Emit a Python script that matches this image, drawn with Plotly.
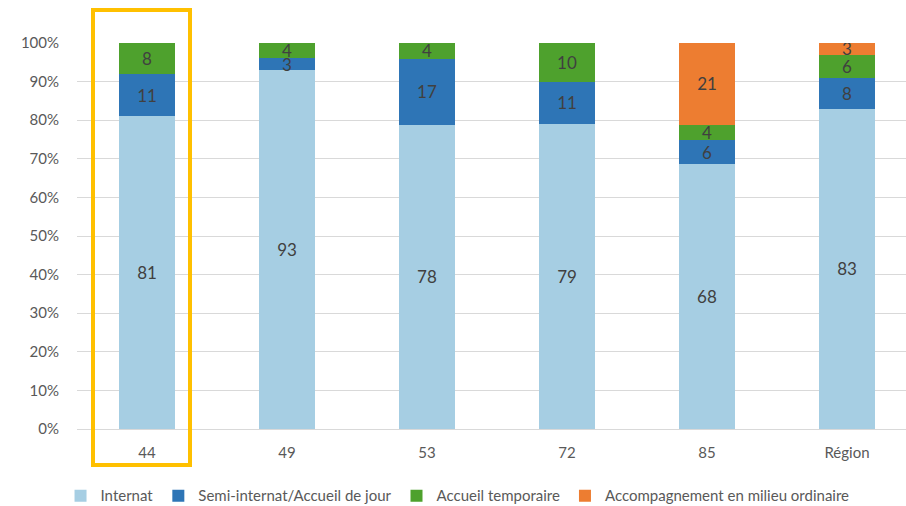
import plotly.graph_objects as go

categories = ["44", "49", "53", "72", "85", "Région"]
internat = [81, 93, 78, 79, 68, 83]
semi_internat = [11, 3, 17, 11, 6, 8]
accueil_temporaire = [8, 4, 4, 10, 4, 6]
accompagnement = [0, 0, 0, 0, 21, 3]
y_ticks = [0, 10, 20, 30, 40, 50, 60, 70, 80, 90, 100]
y_tick_labels = [f"{v}%" for v in y_ticks]

series = [
    ("Internat", internat, "#A6CEE3"),
    ("Semi-internat/Accueil de jour", semi_internat, "#2E75B6"),
    ("Accueil temporaire", accueil_temporaire, "#4EA12D"),
    ("Accompagnement en milieu ordinaire", accompagnement, "#ED7D31"),
]

FONT = "Lato, Roboto, sans-serif"

fig = go.Figure()
for name, vals, color in series:
    fig.add_trace(go.Bar(
        name=name, x=categories, y=vals,
        marker=dict(color=color, line=dict(width=0)),
        width=0.4,
        text=[str(v) if v else "" for v in vals],
        textposition="inside", insidetextanchor="middle",
        textangle=0, constraintext="none",
        textfont=dict(color="#404040", size=17, family=FONT),
    ))

W, H = 906, 506
ml, mr, mt, mb = 77, 0, 43, 77
pw = W - ml - mr
ph = H - mt - mb

def px2paper_x(px):
    return (px - ml) / pw

def px2paper_y(py):
    return (H - mb - py) / ph

fig.add_shape(type="rect", xref="paper", yref="paper",
              x0=px2paper_x(93), x1=px2paper_x(190),
              y0=px2paper_y(465), y1=px2paper_y(10),
              line=dict(color="#FFC000", width=4), layer="above")

fig.update_layout(
    width=W, height=H,
    margin=dict(l=ml, r=mr, t=mt, b=mb),
    barmode="stack", barnorm="percent",
    plot_bgcolor="white", paper_bgcolor="white",
    font=dict(family=FONT, color="#595959", size=15),
    showlegend=True,
    legend=dict(orientation="h", xref="container", yref="container",
                x=0.505, xanchor="center", y=0.02, yanchor="middle",
                font=dict(size=15, color="#595959", family=FONT),
                traceorder="normal"),
    xaxis=dict(range=[-0.5, -0.5 + pw / 140], showgrid=False, showline=False,
               zeroline=False, ticks="outside", ticklen=10, tickcolor="rgba(0,0,0,0)",
               tickfont=dict(size=15, color="#595959", family=FONT)),
    yaxis=dict(range=[0, 100], tickvals=y_ticks, ticktext=y_tick_labels,
               showgrid=True, gridcolor="#D9D9D9", gridwidth=1,
               zeroline=True, zerolinecolor="#D9D9D9", zerolinewidth=1,
               showline=False, ticks="outside", ticklen=14, tickcolor="rgba(0,0,0,0)",
               tickfont=dict(size=15, color="#595959", family=FONT)),
)

fig.write_html("out.html")
